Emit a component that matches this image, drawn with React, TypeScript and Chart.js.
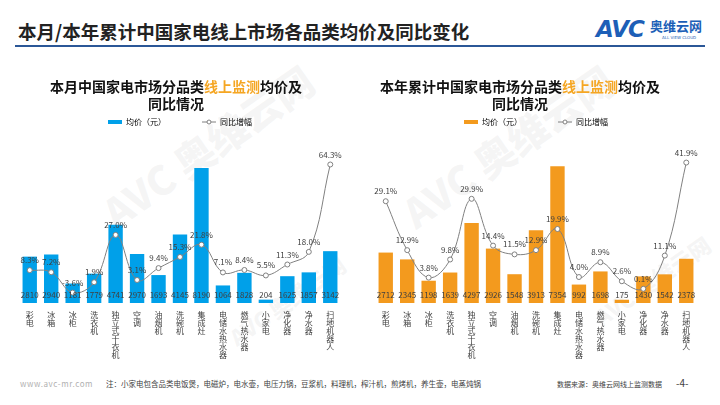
import React, { useEffect, useRef } from 'react';
import { Chart, registerables } from 'chart.js';
Chart.register(...registerables);

const FONT = '"Noto Sans CJK SC", "Noto Sans", sans-serif';

const categories = ['彩电', '冰箱', '冰柜', '洗衣机', '独立式干衣机', '空调', '油烟机', '洗碗机', '集成灶', '电储水热水器', '燃气热水器', '小家电', '净化器', '净水器', '扫地机器人'];
const monthPrice = [2810, 2940, 1181, 1779, 4741, 2970, 1693, 4145, 8190, 1064, 1828, 204, 1625, 1857, 3142];
const monthYoY = [8.3, 7.2, -3.6, 1.9, 27.0, 3.1, 9.4, 15.3, 21.8, 7.1, 8.4, 5.5, 11.3, 18.0, 64.3];
const ytdPrice = [2712, 2345, 1198, 1639, 4297, 2926, 1548, 3913, 7354, 992, 1698, 175, 1430, 1542, 2378];
const ytdYoY = [29.1, 12.9, 3.8, 9.8, 29.9, 14.4, 11.5, 12.9, 19.9, 4.0, 8.9, 2.6, 0.1, 11.1, 41.9];
const legendBar = '均价（元）';
const legendLine = '同比增幅';

const LINE_COLOR = '#808080';
const TEXT_COLOR = '#404040';

const labelPlugin = {
  id: 'valueLabels',
  afterDatasetsDraw(chart: any) {
    const ctx = chart.ctx;
    const barMeta = chart.getDatasetMeta(0);
    const lineMeta = chart.getDatasetMeta(1);
    const y0 = chart.scales.y.getPixelForValue(0);
    ctx.save();
    ctx.font = `8px ${FONT}`;
    ctx.fillStyle = TEXT_COLOR;
    ctx.textAlign = 'center';
    ctx.textBaseline = 'middle';
    const barData = chart.data.datasets[0].data;
    barMeta.data.forEach((el: any, i: number) => {
      ctx.fillText(String(barData[i]), el.x, y0 - 8);
    });
    const lineData = chart.data.datasets[1].data;
    lineMeta.data.forEach((el: any, i: number) => {
      ctx.fillText(Number(lineData[i]).toFixed(1) + '%', el.x, el.y - 10);
    });
    ctx.restore();
  },
  afterDraw(chart: any) {
    const lg = chart.legend;
    if (!lg || !lg.legendHitBoxes || lg.legendHitBoxes.length < 2) return;
    const hb = lg.legendHitBoxes[1];
    const ctx = chart.ctx;
    ctx.save();
    ctx.beginPath();
    ctx.arc(hb.left + 7, hb.top + hb.height / 2, 2, 0, Math.PI * 2);
    ctx.fillStyle = '#fff';
    ctx.fill();
    ctx.strokeStyle = LINE_COLOR;
    ctx.lineWidth = 1;
    ctx.stroke();
    ctx.restore();
  },
};

type Cfg = {
  prices: number[];
  yoy: number[];
  color: string;
  yMax: number;
  y2Min: number;
  y2Max: number;
  padLeft: number;
  padRight: number;
};

function ComboChart({ cfg, left }: { cfg: Cfg; left: number }) {
  const ref = useRef<HTMLCanvasElement>(null);
  useEffect(() => {
    if (!ref.current) return;
    const chart = new Chart(ref.current, {
      type: 'bar',
      data: {
        labels: categories.map((c) => c.split('')),
        datasets: [
          {
            type: 'bar',
            label: legendBar,
            data: cfg.prices,
            backgroundColor: cfg.color,
            barPercentage: 0.67,
            categoryPercentage: 1,
            yAxisID: 'y',
            order: 1,
          },
          {
            type: 'line',
            label: legendLine,
            data: cfg.yoy,
            borderColor: LINE_COLOR,
            borderWidth: 1,
            tension: 0.4,
            pointRadius: 2.5,
            pointBackgroundColor: '#ffffff',
            pointBorderColor: LINE_COLOR,
            pointBorderWidth: 1,
            yAxisID: 'y2',
            order: 0,
          },
        ] as any,
      },
      options: {
        animation: false,
        responsive: false,
        devicePixelRatio: 1,
        layout: { padding: { left: cfg.padLeft, right: cfg.padRight, top: 0, bottom: 13 } },
        plugins: {
          tooltip: { enabled: false },
          legend: {
            display: true,
            position: 'top',
            labels: {
              usePointStyle: true,
              pointStyleWidth: 14,
              boxHeight: 4,
              padding: 36,
              color: '#595959',
              font: { size: 8, family: FONT },
              generateLabels: () => [
                { text: legendBar, fillStyle: cfg.color, strokeStyle: cfg.color, lineWidth: 0, pointStyle: 'rect', datasetIndex: 0, hidden: false } as any,
                { text: legendLine, fillStyle: '#ffffff', strokeStyle: LINE_COLOR, lineWidth: 1, pointStyle: 'line', datasetIndex: 1, hidden: false } as any,
              ],
            },
          },
        },
        scales: {
          x: {
            grid: { display: false },
            border: { display: false },
            ticks: {
              autoSkip: false,
              maxRotation: 0,
              minRotation: 0,
              padding: 0,
              color: TEXT_COLOR,
              font: { size: 8, family: FONT, lineHeight: 1.0 },
            },
          },
          y: { display: false, min: 0, max: cfg.yMax },
          y2: { display: false, min: cfg.y2Min, max: cfg.y2Max, position: 'right' },
        },
      } as any,
      plugins: [labelPlugin],
    });
    return () => chart.destroy();
  }, []);
  return (
    <canvas
      ref={ref}
      width={360}
      height={290}
      style={{ position: 'absolute', left, top: 82, width: 360, height: 290 }}
    />
  );
}

const leftCfg: Cfg = { prices: monthPrice, yoy: monthYoY, color: '#00A0E9', yMax: 10122, y2Min: -9.1, y2Max: 79.4, padLeft: 19, padRight: 19 };
const rightCfg: Cfg = { prices: ytdPrice, yoy: ytdYoY, color: '#F39A1E', yMax: 8981, y2Min: -4.6, y2Max: 50.7, padLeft: 15, padRight: 23 };

const abs = (s: React.CSSProperties): React.CSSProperties => ({ position: 'absolute', whiteSpace: 'nowrap', fontFamily: FONT, ...s });

const wm = (left: number, top: number, size: number): React.CSSProperties =>
  abs({ left, top, fontSize: size, fontWeight: 900, color: 'rgba(180,180,180,0.13)', transform: 'rotate(-35deg)', transformOrigin: 'left top', lineHeight: 1 });

export default function App() {
  return (
    <div style={{ position: 'fixed', left: 0, top: 0, width: 720, height: 405, background: '#fff', overflow: 'hidden', fontFamily: FONT }}>
      <div style={wm(95, 200, 40)}>AVC 奥维云网</div>
      <div style={wm(395, 200, 40)}>AVC 奥维云网</div>
      <div style={wm(225, 330, 22)}>AVC 奥维云网</div>
      <div style={wm(590, 310, 22)}>AVC 奥维云网</div>

      <div style={abs({ left: 18, top: 20, fontSize: 18.5, fontWeight: 700, color: '#222', lineHeight: '22px' })}>本月/本年累计中国家电线上市场各品类均价及同比变化</div>
      <div style={abs({ left: 15, top: 45, width: 690, height: 2, background: '#2b5797' })} />
      <div style={abs({ left: 596, top: 15, fontSize: 23, fontWeight: 900, fontStyle: 'italic', color: '#1d5fb7', lineHeight: '28px', fontFamily: '"DejaVu Sans", sans-serif', letterSpacing: -1 })}>AVC</div>
      <div style={abs({ left: 650, top: 18, fontSize: 13, fontWeight: 700, color: '#1d5fb7', lineHeight: '16px' })}>奥维云网</div>
      <div style={abs({ left: 662, top: 35, fontSize: 4, color: '#1d5fb7', lineHeight: '5px', fontFamily: '"DejaVu Sans", sans-serif' })}>ALL VIEW CLOUD</div>

      <ComboChart cfg={leftCfg} left={0} />
      <ComboChart cfg={rightCfg} left={360} />

      <div style={abs({ left: 26, top: 78, width: 300, textAlign: 'center', fontSize: 14, fontWeight: 700, color: '#111', lineHeight: '17px' })}>
        本月中国家电市场分品类<span style={{ color: '#F5A623' }}>线上监测</span>均价及<br />同比情况
      </div>
      <div style={abs({ left: 370, top: 78, width: 300, textAlign: 'center', fontSize: 14, fontWeight: 700, color: '#111', lineHeight: '17px' })}>
        本年累计中国家电市场分品类<span style={{ color: '#F5A623' }}>线上监测</span>均价及<br />同比情况
      </div>

      <div style={abs({ left: 20, top: 379, fontSize: 8, color: '#b0b0b0', lineHeight: '10px', letterSpacing: 0.6 })}>www.avc-mr.com</div>
      <div style={abs({ left: 106, top: 379, fontSize: 7.5, color: '#404040', lineHeight: '10px' })}>注：小家电包含品类电饭煲，电磁炉，电水壶，电压力锅，豆浆机，料理机，榨汁机，煎烤机，养生壶，电蒸炖锅</div>
      <div style={abs({ left: 557, top: 379, fontSize: 7, color: '#404040', lineHeight: '10px' })}>数据来源：奥维云网线上监测数据</div>
      <div style={abs({ left: 676, top: 377, fontSize: 10, color: '#404040', lineHeight: '12px' })}>-4-</div>
    </div>
  );
}
